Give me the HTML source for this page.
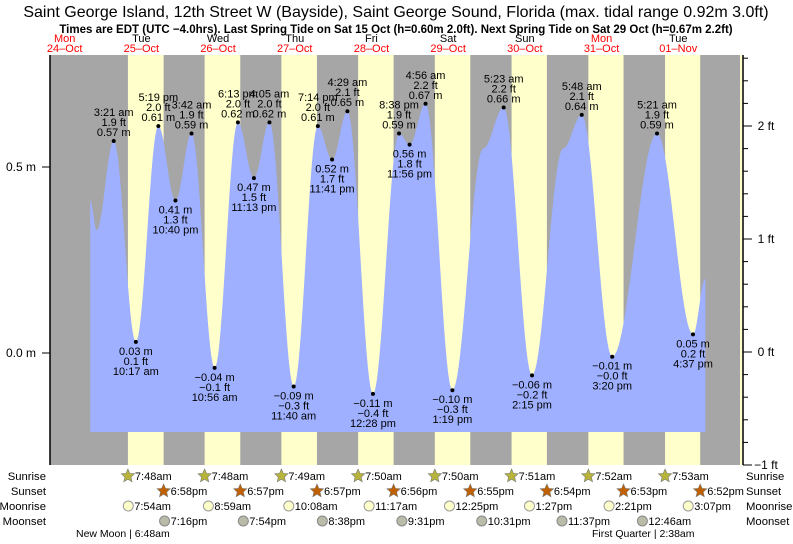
<!DOCTYPE html>
<html><head><meta charset="utf-8"><style>
body{margin:0;background:#fff;width:793px;height:539px;overflow:hidden}
svg text{font-family:"Liberation Sans",sans-serif}
</style></head><body>
<svg id="chart" width="793" height="539" xmlns="http://www.w3.org/2000/svg">
<text x="396" y="17" text-anchor="middle" font-size="16">Saint George Island, 12th Street W (Bayside), Saint George Sound, Florida (max. tidal range 0.92m 3.0ft)</text>
<text x="396" y="33" text-anchor="middle" font-size="11.5" font-weight="bold">Times are EDT (UTC −4.0hrs). Last Spring Tide on Sat 15 Oct (h=0.60m 2.0ft). Next Spring Tide on Sat 29 Oct (h=0.67m 2.2ft)</text>
<g id="g"></g>
</svg>
<script>
// data
const dayNames=["Mon","Tue","Wed","Thu","Fri","Sat","Sun","Mon","Tue"];
const dayDates=["24–Oct","25–Oct","26–Oct","27–Oct","28–Oct","29–Oct","30–Oct","31–Oct","01–Nov"];
// times in hours since 24-Oct 00:00
const tideTimes=[20.0,22.0,27.35,34.28,41.32,46.67,51.7,58.93,66.22,71.22,76.08,83.67,91.23,95.68,100.48,108.47,116.63,119.93,124.93,133.32,143.0,149.38,158.25,168.0,173.8,183.33,197.35,208.62,212.5];
const tideHeights=[0.41,0.33,0.57,0.03,0.61,0.41,0.59,-0.04,0.62,0.47,0.62,-0.09,0.61,0.52,0.65,-0.11,0.59,0.56,0.67,-0.10,0.55,0.66,-0.06,0.55,0.64,-0.01,0.59,0.05,0.2];
const tideLabels=["","","3:21 am","10:17 am","5:19 pm","10:40 pm","3:42 am","10:56 am","6:13 pm","11:13 pm","4:05 am","11:40 am","7:14 pm","11:41 pm","4:29 am","12:28 pm","8:38 pm","11:56 pm","4:56 am","1:19 pm","","5:23 am","2:15 pm","","5:48 am","3:20 pm","5:21 am","4:37 pm",""];
const sunriseH=[31.8,55.8,79.82,103.83,127.83,151.85,175.87,199.88];
const sunriseL=["7:48am","7:48am","7:49am","7:50am","7:50am","7:51am","7:52am","7:53am"];
const sunsetH=[42.97,66.95,90.95,114.93,138.92,162.9,186.88,210.87];
const sunsetL=["6:58pm","6:57pm","6:57pm","6:56pm","6:55pm","6:54pm","6:53pm","6:52pm"];
const moonriseH=[31.9,56.98,82.13,107.28,132.42,157.45,182.35,207.12];
const moonriseL=["7:54am","8:59am","10:08am","11:17am","12:25pm","1:27pm","2:21pm","3:07pm"];
const moonsetH=[43.27,67.9,92.63,117.52,142.52,167.62,192.78,216.77];
const moonsetL=["7:16pm","7:54pm","8:38pm","9:31pm","10:31pm","11:37pm","12:46am",""];

const NS="http://www.w3.org/2000/svg";
const G=document.getElementById('g');
const X0=26.3, PXH=76.7/24;
const xs=h=>X0+h*PXH;
const ys=m=>353-m*372;
function el(t,a,p){const e=document.createElementNS(NS,t);for(const k in a)e.setAttribute(k,a[k]);(p||G).appendChild(e);return e;}
function tx(x,y,s,a,fs,fill){const e=el('text',{x:x,y:y,'text-anchor':a||'middle','font-size':fs||11,fill:fill||'#000'});e.textContent=s;return e;}

const bg=el('rect',{x:50,y:55,width:690,height:410,fill:'#a6a6a6'});


el('rect',{x:740,y:55,width:3,height:410,fill:'#ffffcc'});
for(let i=0;i<sunriseH.length;i++){
  const r=el('rect',{x:xs(sunriseH[i]),y:55,width:xs(sunsetH[i])-xs(sunriseH[i]),height:410,fill:'#ffffcc'});
  
  
}
// tide curve
let d='M'+xs(tideTimes[0])+','+432;
for(let i=0;i<tideTimes.length-1;i++){
  const t0=tideTimes[i],t1=tideTimes[i+1],h0=tideHeights[i],h1=tideHeights[i+1];
  for(let k=0;k<=20;k++){const f=k/20;const h=h0+(h1-h0)*(1-Math.cos(Math.PI*f))/2;d+=' L'+xs(t0+(t1-t0)*f).toFixed(2)+','+ys(h).toFixed(2);}
}
d+=' L'+xs(tideTimes[tideTimes.length-1])+',432 Z';
const area=el('path',{d:d,fill:'#9eb0ff'});


// labels
for(let i=0;i<tideTimes.length;i++){
  if(!tideLabels[i])continue;
  const x=xs(tideTimes[i]),y=ys(tideHeights[i]),m=tideHeights[i];
  const prev=tideHeights[i-1],hi=m>prev;
  const dot=el('circle',{cx:x,cy:y,r:2,fill:'#000'});
  
  
  const ms=(m<0?'−':'')+Math.abs(m).toFixed(2)+' m';
  const fv=m*3.2808;const fs=(fv<0?'−':'')+Math.abs(fv).toFixed(1)+' ft';
  if(hi){tx(x,y-5,ms);tx(x,y-15,fs);tx(x,y-25,tideLabels[i]);}
  else{tx(x,y+13,ms);tx(x,y+23,fs);tx(x,y+33,tideLabels[i]);}
}
// day labels
for(let i=0;i<dayNames.length;i++){
  const x=xs(i*24+12);
  const c=dayNames[i]==="Mon"?'#f00':'#000';
  const a=tx(x,42,dayNames[i],'middle',11,c);
  const b=tx(x,52,dayDates[i],'middle',11,'#f00');
}
// axes
el('line',{x1:743,y1:55,x2:743,y2:465,stroke:'#000','stroke-width':1.5});
el('line',{x1:50,y1:55,x2:50,y2:465,stroke:'#000','stroke-width':1.5});
const ftVals=[-1,0,1,2];
for(let f=-1;f<=2.8;f+=0.2){const y=352-f*113;if(y<55)break;el('line',{x1:743,y1:y,x2:748,y2:y,stroke:'#000'});}
for(const f of ftVals){const y=352-f*113;el('line',{x1:743,y1:y,x2:752,y2:y,stroke:'#000'});tx(766,y+4,(f<0?'−':'')+Math.abs(f)+' ft','middle',12);}
const mVals=[0,0.5];
for(const m of mVals){const y=ys(m);el('line',{x1:42,y1:y,x2:50,y2:y,stroke:'#000'});tx(36,y+4,m.toFixed(1)+' m','end',12);}
// bottom rows
const rowsY=[476,491,506,521];
const rowNames=["Sunrise","Sunset","Moonrise","Moonset"];
for(let r=0;r<4;r++){tx(46,rowsY[r]+4,rowNames[r],'end',11.3);tx(746,rowsY[r]+4,rowNames[r],'start',11.3);}
function star(cx,cy,fill){let p='';for(let k=0;k<10;k++){const a=-Math.PI/2+k*Math.PI/5,rr=k%2?3.2:7;p+=(cx+rr*Math.cos(a)).toFixed(1)+','+(cy+rr*Math.sin(a)).toFixed(1)+' ';}return el('polygon',{points:p,fill:fill,stroke:'#777','stroke-width':0.6});}
for(let i=0;i<sunriseH.length;i++){const x=xs(sunriseH[i]);const s=star(x,rowsY[0],'#b8b43a');tx(x+7,rowsY[0]+4,sunriseL[i],'start',11);}
for(let i=0;i<sunsetH.length;i++){const x=xs(sunsetH[i]);const s=star(x,rowsY[1],'#c06000');tx(x+7,rowsY[1]+4,sunsetL[i],'start',11);}
for(let i=0;i<moonriseH.length;i++){const x=xs(moonriseH[i]);const c=el('circle',{cx:x,cy:rowsY[2],r:5,fill:'#ffffcc',stroke:'#999'});tx(x+6,rowsY[2]+4,moonriseL[i],'start',11);}
for(let i=0;i<moonsetH.length;i++){if(!moonsetL[i])continue;const x=xs(moonsetH[i]);const c=el('circle',{cx:x,cy:rowsY[3],r:5,fill:'#bbbbaa',stroke:'#888'});tx(x+6,rowsY[3]+4,moonsetL[i],'start',11);}
const nm=tx(76,537,'New Moon | 6:48am','start',10.5);
const fq=tx(592,537,'First Quarter | 2:38am','start',10.5);
</script>
</body></html>
